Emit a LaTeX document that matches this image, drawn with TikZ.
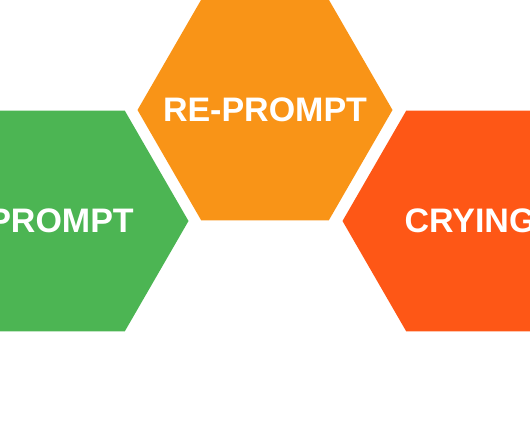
\documentclass[tikz,border=0pt]{standalone}
\usepackage{fontspec}
\setmainfont{Liberation Sans}
\usetikzlibrary{shapes.geometric}
\definecolor{promptgreen}{HTML}{4CB553}
\definecolor{repromptorange}{HTML}{F99417}
\definecolor{cryingred}{HTML}{FE5716}
\newcommand{\hexfont}{\fontsize{34}{36}\selectfont\bfseries}

\begin{document}
\begin{tikzpicture}[x=1pt,y=-1pt,
  hexcell/.style={regular polygon,regular polygon sides=6,minimum size=255pt,
    inner sep=0pt},
  hexlabel/.style={text=white,font=\hexfont}]
  \useasboundingbox (0,0) rectangle (530,442);
  \clip (0,0) rectangle (530,442);
  \node[hexcell,fill=promptgreen] (prompt) at (61,221) {};
  \node[hexcell,fill=repromptorange] (reprompt) at (265,110) {};
  \node[hexcell,fill=cryingred] (crying) at (470,221) {};
  \node[hexlabel] (promptText) at (prompt.center) {PROMPT};
  \node[hexlabel] (repromptText) at (reprompt.center) {RE-PROMPT};
  \node[hexlabel] (cryingText) at (crying.center) {CRYING};
\end{tikzpicture}
\end{document}
